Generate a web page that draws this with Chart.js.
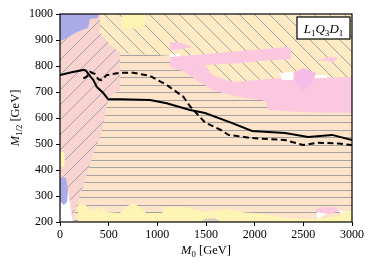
<!DOCTYPE html>
<html>
<head>
<meta charset="utf-8">
<script src="https://cdn.jsdelivr.net/npm/chart.js@4.4.1/dist/chart.umd.min.js"></script>
<style>
  html, body { margin: 0; padding: 0; background: #fff; }
</style>
</head>
<body>
<canvas id="chart" width="374" height="268"></canvas>
<script>
const xTicks = [0, 500, 1000, 1500, 2000, 2500, 3000];
const yTicks = [200, 300, 400, 500, 600, 700, 800, 900, 1000];

// limit curves: M0 and M1/2 in GeV
const solidM0 = [0, 120, 240, 267, 300, 343, 377, 445, 495, 617, 925, 1096, 1336, 1490, 1750, 1973, 2312, 2549, 2795, 3000];
const solidM12 = [765, 776, 785, 782, 765, 746, 720, 696, 672, 672, 669, 657, 631, 619, 583, 550, 542, 527, 535, 515];
const dashedM0 = [240, 274, 308, 360, 394, 428, 480, 617, 753, 925, 1096, 1267, 1336, 1490, 1662, 1730, 1970, 2312, 2497, 2650, 2860, 3000];
const dashedM12 = [752, 759, 778, 769, 749, 746, 765, 774, 774, 762, 727, 682, 645, 583, 552, 535, 523, 515, 496, 505, 502, 496];

// regions as [M0, M1/2] outlines
const peachZone = [[-100, 100], [3100, 100], [3100, 1100], [-100, 1100]];
const yellowTop = [[380, 1050], [3100, 1050], [3100, 720], [1750, 720], [1500, 790], [1336, 835], [616, 850], [380, 850]];
const lightYellowTop = [[637, 1050], [873, 1050], [873, 950], [850, 944], [700, 944], [637, 948]];
const white0 = [[1130, 846], [1233, 846], [1233, 835], [1130, 831]];
const sliver = [[1130, 892], [1212, 892], [1366, 873], [1182, 862], [1130, 862]];
const strip = [[2651, 823], [2774, 835], [2856, 831], [2805, 815]];
const upperBand = [[1130, 835], [1747, 854], [2332, 873], [2373, 869], [2373, 827], [2055, 819], [1870, 812], [1490, 804], [1336, 800], [1182, 796], [1130, 796]];
const lowerBand = [[1130, 815], [1490, 804], [1562, 765], [1767, 738], [2281, 754], [2651, 754], [3000, 758], [3100, 758], [3100, 619], [2466, 623], [2137, 631], [2116, 665], [1849, 681], [1592, 704], [1438, 738], [1284, 777], [1130, 796]];
const white1 = [[2260, 773], [2394, 777], [2394, 746], [2281, 746]];
const white2 = [[2620, 765], [2743, 765], [2743, 754], [2620, 754]];
const diamond = [[2404, 777], [2507, 792], [2630, 773], [2589, 731], [2497, 704], [2414, 738]];
const bottomYellow = [[185, 150], [185, 265], [267, 265], [288, 242], [318, 258], [349, 242], [380, 262], [411, 242], [442, 258], [473, 238], [616, 235], [678, 258], [750, 273], [822, 258], [884, 235], [1048, 235], [1079, 258], [1284, 258], [1490, 238], [1592, 242], [1726, 250], [1849, 238], [1973, 235], [2158, 227], [2312, 215], [2466, 212], [2620, 212], [2877, 223], [2928, 242], [3100, 242], [3100, 150]];
const pinkBR = [[2620, 246], [2692, 258], [2825, 258], [2877, 242], [2774, 231], [2640, 235]];
const whiteBR1 = [[2640, 238], [2743, 231], [2640, 212]];
const whiteBR2 = [[2856, 246], [2949, 235], [2877, 235]];
const grayBit = [[1418, 195], [1490, 212], [1592, 215], [1675, 195]];
const pinkLeft = [[-50, 1050], [411, 1050], [411, 927], [514, 881], [616, 854], [616, 708], [534, 688], [493, 669], [452, 592], [432, 554], [360, 477], [288, 400], [226, 323], [154, 246], [134, 190], [-50, 190]];
const lavTop = [[-50, 1050], [411, 1050], [390, 985], [308, 981], [288, 946], [226, 938], [154, 927], [72, 908], [-50, 888]];
const yellowLow = [[-20, 469], [41, 469], [51, 438], [41, 412], [-20, 412]];
const whiteLow = [[21, 369], [82, 323], [134, 195], [-50, 195], [-50, 285]];
const lavLow = [[-20, 373], [62, 369], [82, 323], [72, 277], [41, 265], [-20, 285]];

const HATCH = "#a3a3a3";
const SERIF = '"Liberation Serif", "DejaVu Serif", serif';

function makeHatch(base, kind) {
  const size = 15;
  const c = document.createElement("canvas");
  c.width = size;
  c.height = size;
  const g = c.getContext("2d");
  g.fillStyle = base;
  g.fillRect(0, 0, size, size);
  g.fillStyle = HATCH;
  g.strokeStyle = HATCH;
  g.lineWidth = 1;
  if (kind === "-") {
    g.fillRect(0, 2, size, 1);
    g.fillRect(0, 10, size, 1);
    return g.createPattern(c, "repeat");
  }
  g.beginPath();
  if (kind === "/") {
    g.moveTo(-1, size + 1); g.lineTo(size + 1, -1);
    g.moveTo(-1, 1); g.lineTo(1, -1);
    g.moveTo(size - 1, size + 1); g.lineTo(size + 1, size - 1);
  } else {
    g.moveTo(-1, -1); g.lineTo(size + 1, size + 1);
    g.moveTo(size - 1, -1); g.lineTo(size + 1, 1);
    g.moveTo(-1, size - 1); g.lineTo(1, size + 1);
  }
  g.stroke();
  return g.createPattern(c, "repeat");
}

function toPoints(pairs) {
  return pairs.map(([x, y]) => ({ x, y }));
}

function zone(pairs, color) {
  return {
    data: toPoints(pairs),
    showLine: true,
    fill: "shape",
    backgroundColor: color,
    borderColor: "rgba(0,0,0,0)",
    borderWidth: 0,
    pointRadius: 0,
    tension: 0,
  };
}

function curve(xs, ys, dash) {
  return {
    data: xs.map((x, i) => ({ x, y: ys[i] })),
    showLine: true,
    fill: false,
    borderColor: "#000",
    borderWidth: 2,
    borderDash: dash,
    pointRadius: 0,
    tension: 0,
  };
}

const peachFill = makeHatch("#fde3c9", "-");
const yellowFill = makeHatch("#feebc4", "\\");
const pinkFill = makeHatch("#f9d3cf", "/");
const LAV = "#aaaae6";
const BLOB = "#fbc8df";
const LIGHTY = "#fef5b5";

// listed top layer first
const datasets = [
  curve(solidM0, solidM12, []),
  curve(dashedM0, dashedM12, [6, 3.5]),
  zone(lavLow, LAV),
  zone(whiteLow, "#ffffff"),
  zone(yellowLow, LIGHTY),
  zone(lavTop, LAV),
  zone(pinkLeft, pinkFill),
  zone(grayBit, "#d8d0c0"),
  zone(whiteBR1, "#ffffff"),
  zone(whiteBR2, "#ffffff"),
  zone(pinkBR, BLOB),
  zone(bottomYellow, LIGHTY),
  zone(diamond, "#f6bde8"),
  zone(white1, "#ffffff"),
  zone(white2, "#ffffff"),
  zone(upperBand, BLOB),
  zone(lowerBand, BLOB),
  zone(sliver, BLOB),
  zone(strip, BLOB),
  zone(white0, "#ffffff"),
  zone(lightYellowTop, LIGHTY),
  zone(yellowTop, yellowFill),
  zone(peachZone, peachFill),
];

function drawRich(ctx, parts, x, y, size) {
  const fontOf = (p) => `${p.it ? "italic " : ""}${p.sub ? size * 0.7 : size}px ${SERIF}`;
  let total = 0;
  parts.forEach((p) => {
    ctx.font = fontOf(p);
    p.w = ctx.measureText(p.t).width;
    total += p.w;
  });
  let cx = x - total / 2;
  parts.forEach((p) => {
    ctx.font = fontOf(p);
    ctx.fillText(p.t, cx, y + (p.sub ? size * 0.22 : 0));
    cx += p.w;
  });
}

const decorations = {
  id: "decorations",
  afterDraw(chart) {
    const { ctx, chartArea: a } = chart;
    ctx.save();
    ctx.strokeStyle = "#000";
    ctx.lineWidth = 1.2;
    ctx.strokeRect(a.left, a.top, a.right - a.left, a.bottom - a.top);

    // label box
    ctx.fillStyle = "#fff";
    ctx.fillRect(297, 17, 53, 22);
    ctx.lineWidth = 1.2;
    ctx.strokeRect(297, 17, 53, 22);
    ctx.fillStyle = "#000";
    ctx.textBaseline = "alphabetic";
    drawRich(ctx, [
      { t: "L", it: true }, { t: "1", sub: true },
      { t: "Q", it: true }, { t: "3", sub: true },
      { t: "D", it: true }, { t: "1", sub: true },
    ], 323.5, 33, 13);

    drawRich(ctx, [{ t: "M", it: true }, { t: "0", sub: true }, { t: " [GeV]" }],
      (a.left + a.right) / 2, 254, 12.5);

    ctx.translate(19, (a.top + a.bottom) / 2);
    ctx.rotate(-Math.PI / 2);
    drawRich(ctx, [{ t: "M", it: true }, { t: "1/2", sub: true }, { t: " [GeV]" }], 0, 0, 12.5);
    ctx.restore();
  },
};

const tickFont = { family: SERIF, size: 12 };
const tickGrid = { display: true, drawOnChartArea: false, drawTicks: true, tickLength: 4, color: "#000", lineWidth: 1 };

new Chart(document.getElementById("chart"), {
  type: "scatter",
  data: { datasets },
  options: {
    responsive: false,
    animation: false,
    devicePixelRatio: 1,
    layout: { padding: { top: 14, right: 22, left: 0, bottom: 0 } },
    plugins: { legend: { display: false }, tooltip: { enabled: false } },
    scales: {
      x: {
        type: "linear",
        min: 0,
        max: 3000,
        afterBuildTicks: (s) => { s.ticks = xTicks.map((v) => ({ value: v })); },
        afterFit: (s) => { s.height = 46; },
        ticks: { font: tickFont, color: "#000", padding: 2, maxRotation: 0, callback: (v) => String(v) },
        grid: tickGrid,
        border: { display: false },
      },
      y: {
        type: "linear",
        min: 200,
        max: 1000,
        afterBuildTicks: (s) => { s.ticks = yTicks.map((v) => ({ value: v })); },
        afterFit: (s) => { s.width = 60; },
        ticks: { font: tickFont, color: "#000", padding: 3, callback: (v) => String(v) },
        grid: tickGrid,
        border: { display: false },
      },
    },
  },
  plugins: [decorations],
});
</script>
</body>
</html>
